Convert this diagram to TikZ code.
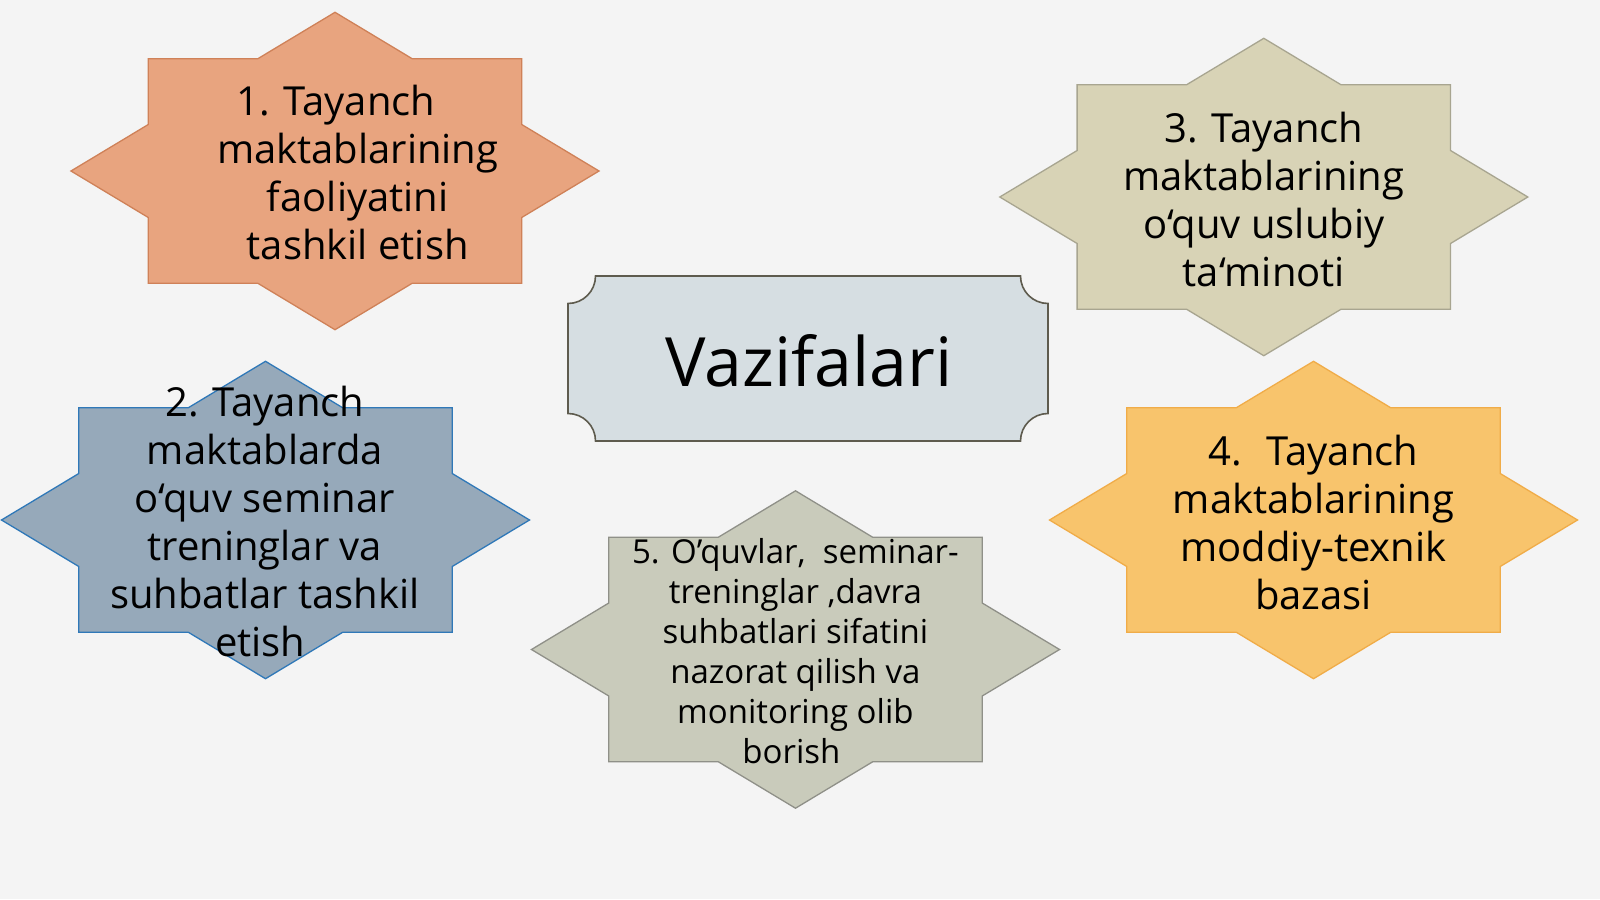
\documentclass[tikz,border=0pt]{standalone}
\usepackage{fontspec}
\setmainfont{Open Sans}
\definecolor{bgc}{HTML}{F4F4F4}
\definecolor{sAfill}{HTML}{E8A47F}
\definecolor{sAdraw}{HTML}{CF8158}
\definecolor{sBfill}{HTML}{96A9BA}
\definecolor{sBdraw}{HTML}{2F78B8}
\definecolor{sCfill}{HTML}{D8D3B6}
\definecolor{sCdraw}{HTML}{A8A590}
\definecolor{sDfill}{HTML}{F8C46C}
\definecolor{sDdraw}{HTML}{F0AC48}
\definecolor{sEfill}{HTML}{C9CBBB}
\definecolor{sEdraw}{HTML}{8F9088}
\definecolor{plfill}{HTML}{D6DEE2}
\definecolor{pldraw}{HTML}{5E5B4E}
\tikzset{
  pics/eightstar/.style={code={
    \path[pic actions] (264,0) -- (186.7,46.5) -- (186.7,112.2) -- (77.3,112.2) -- (0,158.7)
      -- (-77.3,112.2) -- (-186.7,112.2) -- (-186.7,46.5) -- (-264,0) -- (-186.7,-46.5)
      -- (-186.7,-112.2) -- (-77.3,-112.2) -- (0,-158.7) -- (77.3,-112.2) -- (186.7,-112.2)
      -- (186.7,-46.5) -- cycle;
  }},
  startext/.style={align=center, inner sep=0pt, text=black, font=\fontsize{40}{48}\selectfont},
  smalltext/.style={align=center, inner sep=0pt, text=black, font=\fontsize{33}{40}\selectfont},
  starline/.style={line width=1.3pt, line join=miter}
}
\begin{document}
\begin{tikzpicture}[x=1pt,y=-1pt]
\fill[bgc] (0,0) rectangle (1600,899);
\useasboundingbox (0,0) rectangle (1600,899);

% stars
\pic[starline, fill=sAfill, draw=sAdraw] at (335,171) {eightstar};
\pic[starline, fill=sBfill, draw=sBdraw] at (265.5,520) {eightstar};
\pic[starline, fill=sCfill, draw=sCdraw] at (1263.8,197) {eightstar};
\pic[starline, fill=sDfill, draw=sDdraw] at (1313.5,520) {eightstar};
\pic[starline, fill=sEfill, draw=sEdraw] at (795.5,649.5) {eightstar};

% plaque
\def\pr{27.5}
\draw[fill=plfill, draw=pldraw, line width=1.6pt]
  (568+\pr,276) -- (1048-\pr,276) arc[start angle=180, end angle=90, radius=\pr]
  -- (1048,441-\pr) arc[start angle=270, end angle=180, radius=\pr]
  -- (568+\pr,441) arc[start angle=0, end angle=-90, radius=\pr]
  -- (568,276+\pr) arc[start angle=90, end angle=0, radius=\pr] -- cycle;
\node[anchor=base, inner sep=0pt, font=\fontsize{68}{80}\selectfont] (vaz) at (809,386) {Vazifalari};

% texts
\node[startext] (t1) at (357.7,172) {1. Tayanch\hspace*{44pt}\\maktablarining\\faoliyatini\\tashkil etish};
\node[startext] (t2) at (264.8,521) {2. Tayanch\\maktablarda\\o‘quv seminar\\treninglar va\\suhbatlar tashkil\\etish\hspace*{9pt}};
\node[startext] (t3) at (1263.8,199) {3. Tayanch\\maktablarining\\o‘quv uslubiy\\ta‘minoti};
\node[startext] (t4) at (1313.5,522) {4.~ Tayanch\\maktablarining\\moddiy-texnik\\bazasi};
\node[smalltext] (t5) at (795.4,651) {5. O’quvlar,~ seminar-\\treninglar ,davra\\suhbatlari sifatini\\nazorat qilish va\\monitoring olib\\borish\hspace*{8pt}};
\end{tikzpicture}
\end{document}
